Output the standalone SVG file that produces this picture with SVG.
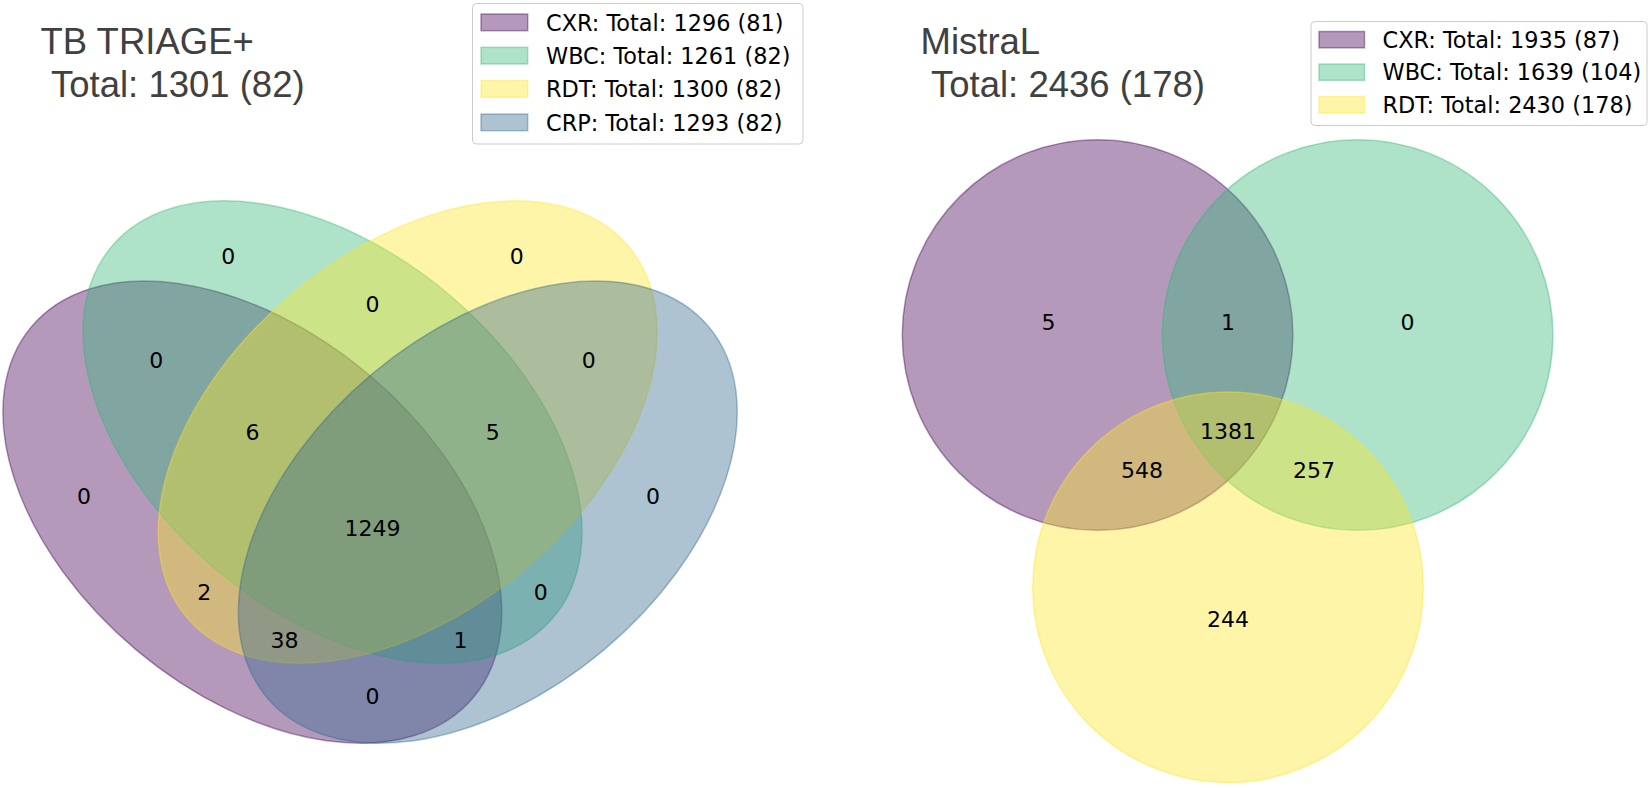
<svg xmlns="http://www.w3.org/2000/svg" width="1651" height="788" viewBox="0 0 1651 788">
<style>
.title{font-family:"Liberation Sans",Arial,sans-serif;font-size:36.5px;fill:#404040}
.leg{font-family:"DejaVu Sans",sans-serif;font-size:22.4px;fill:#000}
.lbl{font-family:"DejaVu Sans",sans-serif;font-size:22px;fill:#000;text-anchor:middle}
.frame{fill:#fff;fill-opacity:0.8;stroke:#cccccc;stroke-width:1}
.cxr{fill:#440154;fill-opacity:0.4;stroke:#440154;stroke-opacity:0.4;stroke-width:1.5}
.wbc{fill:#35b779;fill-opacity:0.4;stroke:#35b779;stroke-opacity:0.4;stroke-width:1.5}
.rdt{fill:#fde725;fill-opacity:0.4;stroke:#fde725;stroke-opacity:0.4;stroke-width:1.5}
.crp{fill:#31688e;fill-opacity:0.4;stroke:#31688e;stroke-opacity:0.4;stroke-width:1.5}
</style>
<rect width="1651" height="788" fill="#fff"/>

<!-- Left: TB TRIAGE+ -->
<g id="left-sets">
  <g id="set-left-cxr"><ellipse class="cxr" cx="0" cy="0" rx="288.4" ry="180.2" transform="translate(252.35,512.1) rotate(-140)"/></g>
  <g id="set-left-wbc"><ellipse class="wbc" cx="0" cy="0" rx="288.4" ry="180.2" transform="translate(332.5,432) rotate(-140)"/></g>
  <g id="set-left-rdt"><ellipse class="rdt" cx="0" cy="0" rx="288.4" ry="180.2" transform="translate(407.7,432) rotate(-40)"/></g>
  <g id="set-left-crp"><ellipse class="crp" cx="0" cy="0" rx="288.4" ry="180.2" transform="translate(487.8,512.1) rotate(-40)"/></g>
</g>
<g id="left-labels">
  <text class="lbl" x="228.3" y="263.8">0</text>
  <text class="lbl" x="516.7" y="263.8">0</text>
  <text class="lbl" x="372.5" y="311.8">0</text>
  <text class="lbl" x="156.2" y="367.9">0</text>
  <text class="lbl" x="588.8" y="367.9">0</text>
  <text class="lbl" x="252.4" y="440">6</text>
  <text class="lbl" x="492.7" y="440">5</text>
  <text class="lbl" x="84.1" y="504.1">0</text>
  <text class="lbl" x="652.9" y="504.1">0</text>
  <text class="lbl" x="372.5" y="536.1">1249</text>
  <text class="lbl" x="204.3" y="600.2">2</text>
  <text class="lbl" x="540.7" y="600.2">0</text>
  <text class="lbl" x="284.4" y="648.3">38</text>
  <text class="lbl" x="460.6" y="648.3">1</text>
  <text class="lbl" x="372.5" y="704.3">0</text>
</g>
<g id="left-title">
  <text class="title" x="40.5" y="54">TB TRIAGE+</text>
  <text class="title" x="51" y="97">Total: 1301 (82)</text>
</g>
<g id="left-legend">
  <rect class="frame" x="472.5" y="3.5" width="330.5" height="140.5" rx="4"/>
  <rect class="cxr" x="481" y="14" width="46.7" height="16.7" stroke-width="1"/>
  <rect class="wbc" x="481" y="47.3" width="46.7" height="16.7" stroke-width="1"/>
  <rect class="rdt" x="481" y="80.6" width="46.7" height="16.7" stroke-width="1"/>
  <rect class="crp" x="481" y="114" width="46.7" height="16.7" stroke-width="1"/>
  <text class="leg" x="546" y="30.5">CXR: Total: 1296 (81)</text>
  <text class="leg" x="546" y="63.8">WBC: Total: 1261 (82)</text>
  <text class="leg" x="546" y="97.1">RDT: Total: 1300 (82)</text>
  <text class="leg" x="546" y="130.5">CRP: Total: 1293 (82)</text>
</g>

<!-- Right: MistraL -->
<g id="right-sets">
  <g id="set-right-cxr"><circle class="cxr" cx="1097.6" cy="335" r="195.3"/></g>
  <g id="set-right-wbc"><circle class="wbc" cx="1357.6" cy="335" r="195.3"/></g>
  <g id="set-right-rdt"><circle class="rdt" cx="1228" cy="587.3" r="195.3"/></g>
</g>
<g id="right-labels">
  <text class="lbl" x="1048.4" y="329.7">5</text>
  <text class="lbl" x="1228" y="329.7">1</text>
  <text class="lbl" x="1407.6" y="329.7">0</text>
  <text class="lbl" x="1228" y="439.1">1381</text>
  <text class="lbl" x="1142.1" y="478.1">548</text>
  <text class="lbl" x="1313.9" y="478.1">257</text>
  <text class="lbl" x="1228" y="626.5">244</text>
</g>
<g id="right-title">
  <text class="title" x="920.5" y="54">MistraL</text>
  <text class="title" x="931" y="97">Total: 2436 (178)</text>
</g>
<g id="right-legend">
  <rect class="frame" x="1311" y="21.5" width="336" height="104" rx="4"/>
  <rect class="cxr" x="1319" y="31.5" width="45.5" height="16.3" stroke-width="1"/>
  <rect class="wbc" x="1319" y="64" width="45.5" height="16.3" stroke-width="1"/>
  <rect class="rdt" x="1319" y="96.5" width="45.5" height="16.3" stroke-width="1"/>
  <text class="leg" x="1382.5" y="47.7">CXR: Total: 1935 (87)</text>
  <text class="leg" x="1382.5" y="80.2">WBC: Total: 1639 (104)</text>
  <text class="leg" x="1382.5" y="112.7">RDT: Total: 2430 (178)</text>
</g>
<g id="connectors"></g>
</svg>
